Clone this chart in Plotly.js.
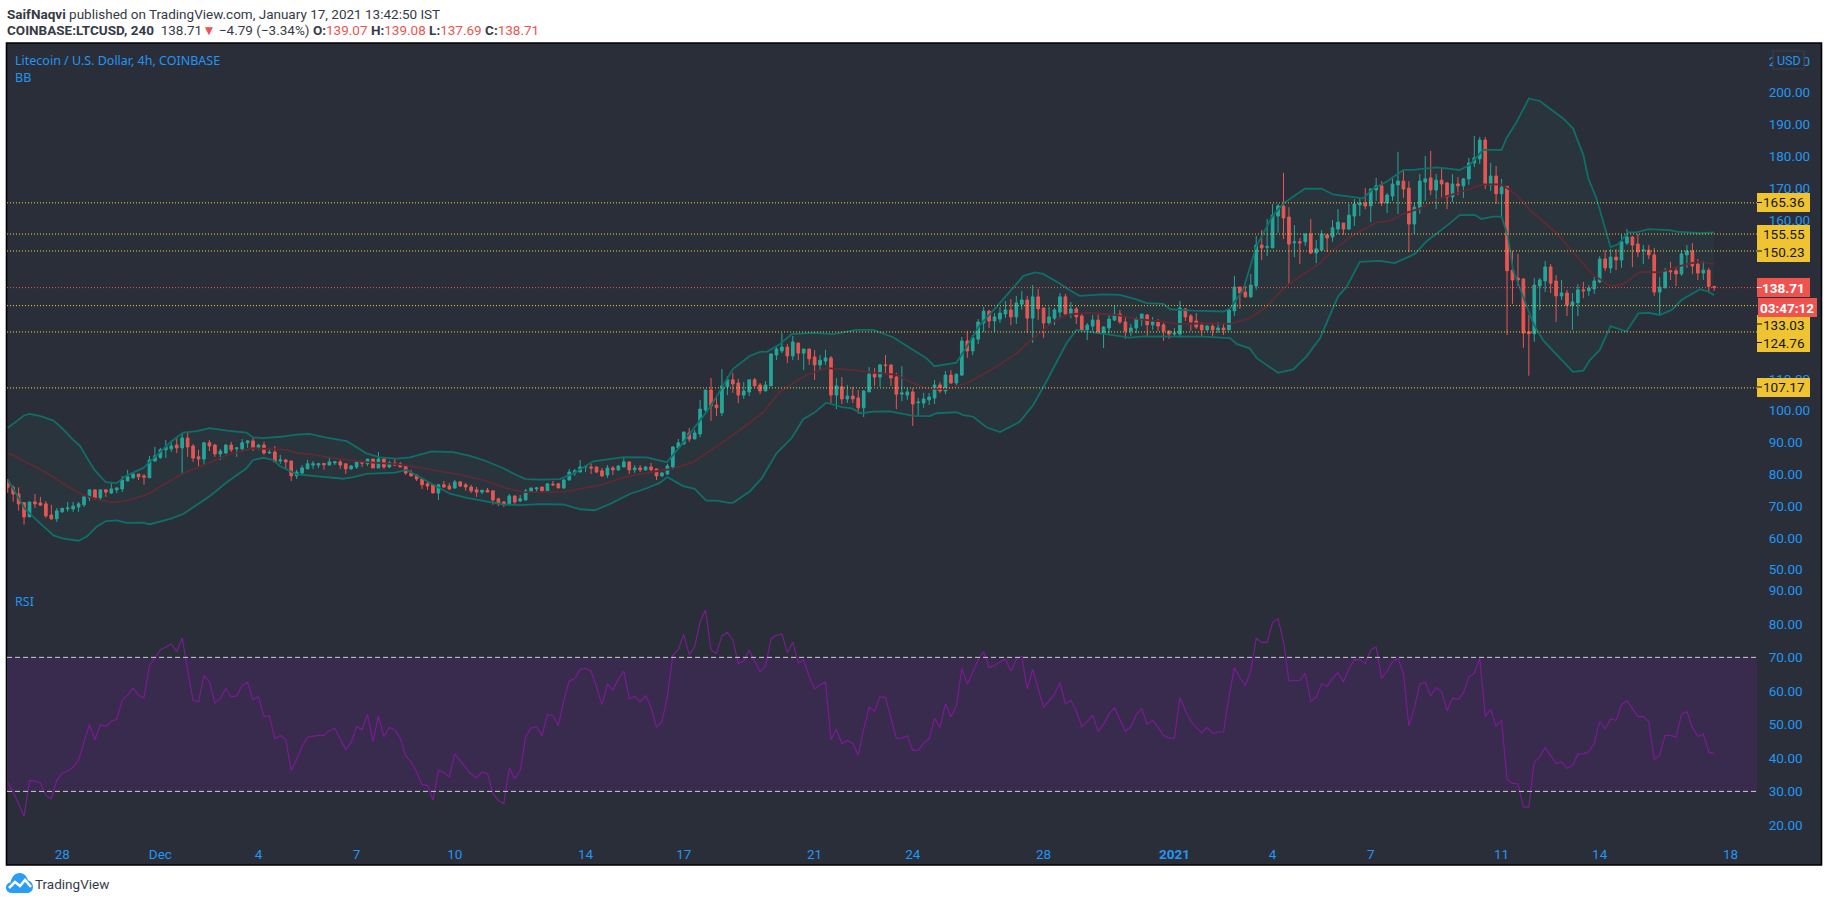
<!DOCTYPE html>
<html><head><meta charset="utf-8">
<script src="https://cdn.plot.ly/plotly-3.0.1.min.js"></script>
<style>html,body{margin:0;padding:0;background:#fff;overflow:hidden}#c{width:1828px;height:902px}
#logo{position:absolute;left:6px;top:871px}</style></head>
<body><div id="c"></div>
<svg id="logo" width="27" height="24" viewBox="0 0 27 24"><path d="M6 22 C2 22 0 19.500 0 16.500 C0 13.500 2.500 11.500 4.500 11.500 C5.500 6 9 2 13.500 2 C18 2 21 5.500 22 9.500 C25 10 27 13 27 16 C27 19.500 24.500 22 21 22 Z" fill="#2a9df4"/><path d="M3 17 L9 11 L14 15 L19 9 L25 16" stroke="#fff" stroke-width="2.500" fill="none"/></svg>
<script>
const candleStart = Date.UTC(2020,10,26,9,30);
const open = [
77.0,75.9,73.8,71.1,66.6,71.3,71.0,70.7,67.2,66.0,
68.2,69.1,69.1,69.7,70.4,72.6,75.1,72.6,75.1,74.1,
75.1,75.4,77.9,78.9,80.1,79.5,78.9,84.2,85.3,87.7,
88.0,89.2,88.3,91.4,88.9,85.5,84.8,89.9,89.2,86.4,
86.7,89.2,88.0,88.0,89.9,90.5,88.3,89.2,86.7,87.0,
84.2,84.5,84.2,79.5,80.4,81.7,82.9,82.9,83.4,82.9,
83.6,83.9,83.3,81.7,82.3,83.9,83.3,84.8,82.0,84.8,
82.3,83.5,83.3,82.6,80.4,79.8,78.5,77.0,76.7,74.1,
76.7,76.3,75.7,77.6,76.7,76.0,75.1,74.4,75.0,74.8,
72.3,71.3,70.4,73.2,71.6,71.9,74.4,75.4,76.0,74.8,
76.9,77.0,75.7,78.2,80.4,80.7,82.3,82.3,82.3,81.1,
79.8,82.0,81.4,82.3,83.9,81.4,82.0,81.4,82.3,81.7,
79.5,80.1,82.3,88.3,89.5,93.0,91.1,92.7,100.2,106.5,
101.8,99.3,107.5,109.7,108.7,104.9,105.9,109.7,108.1,106.2,
107.8,117.5,118.8,120.0,117.2,121.3,118.1,119.4,116.9,114.4,
115.6,116.6,104.9,107.5,103.7,104.6,104.0,100.9,105.9,111.5,
110.6,114.4,114.4,110.6,105.2,104.9,105.9,102.5,102.4,103.4,
104.0,108.1,106.2,111.2,108.7,111.2,121.9,118.8,122.5,127.6,
131.3,128.2,128.8,130.4,131.7,129.5,133.5,134.8,129.1,135.8,
132.3,127.6,129.1,131.0,135.8,130.4,132.0,129.8,125.4,126.6,
128.5,124.4,126.0,128.5,130.4,127.9,125.1,126.0,128.5,130.1,
127.0,127.9,127.0,125.1,124.1,124.1,132.0,129.8,128.2,127.0,
125.4,126.6,125.4,126.0,125.4,131.4,138.9,137.3,135.8,139.2,
152.1,151.4,151.2,161.2,164.4,160.9,152.8,153.1,153.1,155.6,
149.6,150.5,155.3,154.6,157.1,159.0,157.1,161.2,164.7,165.3,
164.4,169.4,170.7,165.3,167.5,171.0,172.2,170.0,158.7,163.7,
171.9,173.2,169.4,172.5,171.6,167.2,171.3,170.7,172.9,177.9,
179.2,185.1,171.0,173.8,168.2,170.5,144.2,141.7,141.4,124.8,
124.2,139.2,140.8,145.2,140.8,136.1,137.0,133.2,133.9,138.0,
137.7,138.3,140.5,147.7,144.9,148.3,147.4,152.7,154.6,152.4,
150.3,150.5,149.0,137.3,138.6,144.0,144.0,143.0,149.0,150.2,
146.1,143.3,144.2,139.07];
const close = [
75.9,73.8,70.7,66.6,71.3,70.7,70.3,66.9,66.0,68.5,
69.3,69.4,70.0,70.7,72.9,75.1,72.6,75.1,74.4,75.4,
75.7,78.2,79.2,80.1,79.2,79.1,84.5,85.8,87.7,88.6,
88.9,88.3,91.4,88.6,85.1,84.8,89.9,88.9,86.4,87.3,
89.2,87.7,88.3,89.9,90.5,88.3,89.2,86.7,86.9,83.9,
84.5,83.9,79.5,80.7,82.0,83.3,83.3,83.3,83.0,83.9,
83.9,82.9,81.7,82.6,83.9,83.5,84.8,82.0,84.8,82.3,
83.6,82.9,82.3,80.4,79.5,78.5,76.7,76.3,74.1,76.7,
76.0,75.4,77.6,76.3,76.0,74.8,74.4,75.0,74.4,71.9,
71.0,70.7,73.2,71.3,72.3,74.8,75.7,75.7,74.8,77.0,
76.7,75.7,78.2,80.7,81.1,82.3,82.5,82.0,80.7,79.5,
82.0,81.4,82.6,83.9,81.4,82.0,81.4,82.3,81.4,79.5,
80.4,82.6,88.6,89.9,93.3,91.1,93.0,100.5,106.5,101.5,
100.9,107.8,109.7,108.4,104.9,106.2,109.7,107.8,106.2,108.1,
117.8,119.4,120.0,117.2,121.6,118.1,119.4,116.3,114.4,115.9,
116.6,104.9,107.8,103.7,104.6,103.7,100.9,106.2,111.5,110.6,
114.4,114.2,110.3,105.2,105.6,105.9,102.1,102.7,103.7,104.3,
108.1,106.2,111.2,108.7,111.5,121.9,118.8,122.9,127.9,131.3,
128.2,129.5,130.7,131.7,129.5,133.9,134.8,129.1,135.8,132.0,
127.6,129.5,131.7,135.8,130.4,132.0,129.5,125.4,126.9,128.5,
124.4,126.3,128.8,130.4,127.9,125.1,126.0,128.8,130.4,127.0,
127.9,126.6,125.1,124.1,124.4,132.3,129.5,127.9,126.3,125.4,
126.6,125.4,126.0,125.4,131.7,138.9,137.0,135.8,139.5,152.1,
151.2,151.6,161.5,164.4,160.6,152.4,153.1,152.8,155.6,149.6,
150.9,155.6,154.3,157.5,159.3,157.1,161.5,165.0,165.3,164.4,
169.7,170.7,165.3,167.8,171.3,172.2,169.7,158.7,164.0,172.2,
172.9,169.4,172.5,171.3,167.2,171.3,170.7,172.9,177.9,179.5,
185.1,171.0,173.8,168.2,170.3,144.0,141.1,141.1,124.4,124.2,
139.5,141.1,145.2,140.1,136.1,137.0,133.2,134.2,138.0,137.7,
138.6,140.8,147.7,144.9,148.3,147.4,153.1,154.6,152.1,149.9,
150.5,149.0,137.3,138.9,143.9,143.7,143.0,149.3,150.2,145.5,
143.3,144.2,139.1,138.71];
const high = [
78.5,76.5,75.9,71.1,71.3,73.8,72.9,71.6,70.4,69.4,
69.3,71.3,71.3,71.3,72.9,75.1,75.1,75.1,75.4,77.6,
76.0,79.5,81.4,80.7,80.1,80.1,85.8,88.6,88.3,90.8,
90.5,91.7,93.0,93.0,89.5,87.7,90.2,90.8,89.5,88.0,
89.5,90.2,88.5,91.1,90.8,91.4,89.5,90.2,88.3,88.9,
86.1,84.8,84.2,81.4,82.9,84.5,84.2,83.6,83.6,85.5,
84.2,84.5,83.3,82.9,84.2,84.2,84.8,84.8,87.0,85.1,
84.2,85.1,83.9,82.9,81.4,80.1,78.9,77.6,76.7,76.7,
77.9,77.3,78.2,77.9,77.3,76.7,76.0,75.0,75.7,74.8,
72.6,71.6,73.8,73.2,73.5,75.4,75.7,76.0,76.0,77.0,
77.9,77.3,78.5,81.7,81.7,84.5,82.9,83.3,82.3,82.0,
82.9,82.6,82.9,85.1,83.9,82.9,82.9,82.6,83.6,81.7,
80.7,83.3,88.9,91.1,93.3,94.6,93.9,103.4,106.5,110.3,
104.4,113.1,110.9,111.9,110.0,109.0,109.7,110.3,108.7,109.3,
118.1,120.0,124.4,121.0,123.5,121.3,119.4,119.4,119.1,117.5,
119.1,117.2,110.3,110.6,108.1,107.5,106.5,106.5,113.7,113.4,
114.7,117.5,114.4,111.9,114.0,107.1,107.1,104.0,105.6,105.6,
109.7,109.0,112.5,112.8,111.5,123.2,125.1,123.8,128.8,132.6,
131.7,130.7,132.6,134.5,135.1,136.1,137.6,136.1,139.5,138.3,
132.3,132.6,132.3,137.0,136.7,134.2,132.6,130.7,127.6,130.1,
130.4,126.6,130.1,133.2,131.7,129.5,127.3,129.5,130.4,130.4,
129.5,128.8,127.6,125.1,126.0,134.5,132.3,130.4,130.7,127.9,
127.0,127.3,127.9,127.6,132.0,142.4,138.9,139.2,143.0,155.0,
156.8,160.3,165.0,165.0,174.8,164.0,158.4,154.3,155.6,160.3,
153.7,156.8,155.6,160.0,163.4,159.0,165.0,166.6,166.9,170.0,
170.0,173.2,172.2,168.5,173.2,181.4,175.4,172.2,165.3,174.4,
180.1,181.7,174.4,176.0,171.9,174.4,173.5,173.2,179.5,186.4,
186.1,186.1,177.9,177.0,172.9,170.7,150.3,149.3,141.7,130.1,
141.7,141.7,147.1,146.1,142.7,141.1,138.0,137.0,139.8,140.5,
139.5,142.0,148.6,150.5,150.8,150.8,155.3,157.1,154.9,155.6,
152.1,152.1,151.2,142.0,144.9,146.8,145.5,150.5,152.1,152.7,
147.7,147.1,144.9,139.08];
const low = [
74.2,71.4,68.6,64.2,66.6,69.4,70.0,66.3,65.7,65.0,
67.9,68.2,68.2,68.2,69.7,71.6,71.9,71.6,72.9,73.8,
74.1,74.4,77.9,78.5,78.2,76.7,78.9,83.9,84.8,85.1,
87.0,86.7,79.8,85.5,83.9,82.6,82.9,87.3,85.5,84.5,
86.4,87.0,85.5,87.0,88.3,87.3,87.7,86.1,86.4,83.9,
83.3,81.7,77.9,78.5,80.1,81.7,81.7,82.0,81.4,82.9,
82.9,81.7,80.1,81.4,81.7,82.3,82.6,82.0,82.0,81.7,
82.0,82.6,82.3,79.8,79.2,77.9,75.4,75.1,74.1,71.9,
75.7,75.1,75.4,76.0,74.8,74.1,72.9,73.8,74.4,70.4,
70.0,69.7,70.4,70.7,71.3,71.9,74.4,74.4,74.1,74.8,
76.3,75.7,75.4,78.2,79.5,80.7,80.7,80.1,80.4,79.2,
78.9,79.8,81.1,82.3,80.1,80.4,80.7,81.1,80.7,78.2,
79.2,79.8,81.4,88.3,89.5,90.2,91.1,91.7,99.0,96.8,
98.3,98.3,104.9,105.6,102.4,103.7,104.6,107.5,105.2,106.2,
107.8,115.9,118.1,115.0,115.9,115.9,112.8,114.4,109.7,112.8,
114.4,102.4,100.5,102.1,102.4,102.4,99.0,98.0,105.9,107.8,
107.5,111.5,107.8,100.5,103.0,103.4,95.2,98.3,100.9,101.8,
102.1,105.6,105.2,108.4,108.1,110.9,116.6,117.5,121.0,124.7,
126.0,124.7,127.6,129.1,126.9,127.3,131.7,124.4,121.3,128.5,
122.9,126.9,126.9,128.8,130.1,129.1,127.3,125.1,122.2,125.1,
124.1,119.7,123.8,128.2,127.3,122.6,123.5,124.4,126.6,123.5,
125.4,125.1,122.0,122.6,123.5,122.9,128.2,125.1,125.7,123.5,
125.1,123.5,124.4,123.8,125.4,129.8,132.0,135.5,135.5,138.0,
147.4,148.6,151.2,155.9,154.0,139.8,148.3,146.1,151.8,149.3,
146.4,150.5,149.9,153.1,155.6,155.3,156.8,158.1,161.2,163.4,
159.3,166.0,164.4,162.2,166.0,161.9,166.9,149.9,155.6,161.9,
166.0,167.8,163.4,166.9,163.4,165.6,167.8,166.9,171.0,176.6,
177.6,169.7,169.1,165.0,160.9,123.8,133.6,139.2,119.8,111.0,
121.7,131.7,137.3,137.0,127.9,134.8,129.8,125.4,129.8,135.4,
136.1,136.7,140.1,143.9,143.3,144.2,144.9,152.1,145.2,148.3,
146.1,147.7,136.1,130.1,138.6,141.1,139.2,142.4,144.9,143.0,
141.1,141.1,137.6,137.69];
const rsi = [
32.7,29.8,26.3,22.6,33.3,33.1,32.5,28.8,27.8,33.3,
35.5,36.0,37.3,39.3,44.8,49.9,45.4,49.9,49.4,51.0,
51.5,57.2,58.8,60.8,58.7,57.9,67.6,69.7,72.2,73.2,
74.0,71.7,75.8,66.2,57.2,56.7,64.7,62.7,56.4,57.7,
60.8,58.2,58.5,61.6,62.5,57.4,58.3,52.3,52.6,45.7,
46.7,45.5,36.3,39.5,43.5,46.2,46.5,46.7,46.7,48.2,
48.8,45.8,42.5,44.6,49.4,48.4,53.0,45.0,52.5,46.3,
49.1,48.3,45.9,40.6,38.8,35.8,32.0,31.8,27.4,36.3,
35.7,34.3,41.2,39.1,37.1,35.1,34.0,35.8,35.3,29.3,
27.3,26.4,37.1,33.8,36.3,46.3,48.9,49.4,46.6,53.0,
52.6,49.7,57.2,63.0,63.6,66.4,66.7,65.9,61.2,55.9,
62.0,60.3,63.5,65.9,57.6,58.4,56.8,58.5,55.2,49.1,
50.8,58.4,70.6,72.4,76.8,70.8,73.2,80.7,84.1,72.2,
71.2,76.4,77.5,75.2,68.2,68.9,72.1,68.9,65.7,67.4,
75.5,76.6,77.0,71.4,74.5,68.4,69.2,64.2,60.6,61.8,
62.6,45.5,48.5,44.2,45.2,44.4,40.9,48.5,55.1,54.0,
58.3,58.0,52.0,45.8,45.9,46.6,42.2,42.3,44.4,45.7,
51.8,49.1,56.2,52.3,55.5,66.7,62.0,65.4,69.2,71.7,
67.0,67.6,68.7,69.5,65.9,69.4,70.3,60.6,66.4,60.7,
55.1,57.0,59.0,62.5,56.1,57.2,54.0,49.3,50.8,52.8,
47.9,50.0,53.2,54.9,51.5,48.0,49.2,52.9,54.7,50.0,
51.2,49.2,46.7,45.9,45.9,58.0,54.2,51.0,49.1,47.5,
49.1,47.3,47.7,47.8,58.2,67.0,63.9,61.6,65.9,75.7,
74.5,74.5,80.4,81.5,74.7,62.9,63.1,63.1,65.2,56.9,
58.1,62.1,61.4,63.8,65.4,62.7,66.6,69.4,69.3,68.2,
72.2,73.1,63.7,65.9,68.8,69.6,65.2,49.5,55.0,62.0,
62.6,58.5,61.0,59.7,54.1,57.9,57.4,59.4,64.1,65.3,
69.7,52.4,54.5,49.5,51.2,33.6,32.4,32.3,25.4,25.3,
38.8,40.3,43.1,40.7,38.3,38.8,36.9,37.7,41.2,41.2,
41.9,44.3,50.9,48.7,51.6,51.2,55.8,57.1,54.7,52.3,
52.4,50.8,39.5,40.8,46.7,46.7,46.2,53.0,53.8,49.1,
46.4,47.1,41.7,41.3];
const bbUpperAt = [0,1,3,4,6,8.4,10.2,12,13.3,14.6,16,18,20,21.7,23,24.9,25.8,27.9,30,32.2,34.7,37,40.2,43.8,45,46.9,49.9,53,55.4,58.2,62.2,65.8,68.3,71.3,73.8,77.8,81.7,84.8,87.2,90.9,93,95,97.6,101.3,103.8,107.4,109.9,112.9,117.2,120.9,123.3,125.8,128.2,130,133,136.1,138,139.3,141.6,143.8,147.8,151.4,155.7,158.8,162.4,166.1,168.5,170,174,175.9,178.3,181.4,184.4,186.3,188.4,189.9,193,194.5,196.6,200.9,204,207,208.9,212,213.2,217.4,223,224.2,226.6,229,231.9,234,237.9,241,243.1,246.8,248.6,250.5,252.9,256,257.8,262.1,266.3,268.2,270.6,274,274.9,276.8,279,281,283.2,285.3,287.1,289,289.9,291.4,294,295.4,297.2,298.8,300.9,304.9,306.1,310.4,313];
const bbUpper = [94.6,96.0,98.5,99.0,98.3,96.9,94.1,90.8,88.9,85.0,81.2,77.5,77.2,79.5,80.5,82.0,83.5,86.8,90.3,93.1,93.6,94.5,93.7,93.1,91.6,91.4,91.8,92.5,92.7,91.6,90.4,86.6,85.3,84.9,85.3,87.2,87.0,85.8,84.5,81.9,80.0,78.5,78.3,78.5,80.3,84.1,84.8,85.4,85.3,83.8,88.7,94.5,99.7,104.4,113.1,117.2,118.5,118.6,120.9,124.1,124.5,124.1,125.4,125.4,123.1,119.1,116.5,114.0,115.1,120.1,126.9,132.7,138.5,142.4,143.5,143.0,140.0,138.2,136.1,136.6,136.4,135.0,133.8,133.6,131.9,131.5,131.2,132.2,138.0,151.6,161.0,165.2,169.8,169.8,168.0,167.3,166.8,169.9,172.0,175.7,175.7,176.5,175.7,177.3,182.0,182.0,185.7,190.9,198.2,197.4,194.6,191.9,188.8,180.4,173.1,166.8,151.4,152.4,156.1,156.1,157.1,156.8,156.3,155.8,156.1];
const bbBasisAt = [0,1,2.9,5.3,8.4,10.8,13.9,16.9,19.4,21.8,25.5,29.2,32.2,36.5,40.2,45,48.7,51.2,53,56,59.7,65.8,71.9,77.4,81.1,83,87.2,91.5,94.6,101.9,108.6,113.5,118.4,122.1,125.8,130,134.3,138.6,141.6,146.5,150.2,155.1,158.1,163,166.1,168.5,172.2,176.5,181.4,185,188.1,191.8,194.2,197.9,203.4,207.7,212,215,219.9,224.2,227.8,230.9,234,237,240.7,243.1,246.8,251.1,253.5,256,259,262.7,267.6,270.6,274,276.8,279.2,284.1,286.8,290.8,294.2,296.6,299.4,303,307.9,310.4,313];
const bbBasis = [86.5,86.0,84.2,82.2,79.1,76.3,73.5,71.9,71.2,71.7,73.6,77.2,80.3,83.3,86.0,88.2,88.0,87.7,86.7,86.2,85.1,83.8,83.1,81.6,80.4,79.9,78.2,75.6,74.4,74.5,76.6,79.3,80.8,81.8,83.9,88.7,93.9,99.5,106.0,111.2,113.4,112.8,112.1,111.3,108.6,107.0,106.8,109.1,113.9,118.0,122.8,128.0,130.1,130.8,130.1,128.7,128.0,127.2,127.5,127.3,129.1,132.7,138.5,142.2,146.4,150.5,155.3,159.2,159.7,161.9,163.6,166.8,169.4,171.2,171.2,167.8,163.1,155.8,150.5,142.7,139.0,140.1,143.7,143.5,146.1,146.9,146.1];
const bbLowerAt = [0,1.7,3.1,5.3,8.4,10.2,13,14.5,16.3,18,20,21.8,24.6,26.1,29.8,32.2,34.7,37.1,40.2,43.8,45,46.9,48.7,49.9,53,56.7,61.6,63.4,65.8,71,73.2,78.1,81.1,84.2,87.2,90.9,94,97.6,101.9,105,107.7,110.5,114.1,117.2,119.6,121,123.9,126,128.1,130,132.2,133.1,136.1,138.3,141,143.8,145.9,148,150.1,153,154.8,156.5,158.8,161.8,166.1,169.1,170.4,174,175.3,177.1,179.5,182,185.6,188.1,190.5,194.2,196,200.3,205.8,208.3,213.2,219.3,224.2,225.4,227.8,229.1,230.9,233,235.8,238.2,240.7,244,245.6,248,251.7,254.4,258.1,260.2,264.5,266.3,269.1,270.3,272.5,274,275.2,276.1,279.8,281.6,284.7,287.1,289,290.2,292,294,296.9,299.1,300.9,303,305.2,307,310.4,311.9,313];
const bbLower = [78.4,73.5,69.3,65.6,60.8,59.8,59.1,60.4,63.5,65.3,65.5,64.7,64.8,64.3,66.0,67.5,70.5,73.2,77.5,81.9,84.5,85.2,84.5,82.6,80.0,79.4,78.6,79.1,80.1,80.5,81.4,76.7,73.9,72.6,71.7,70.5,70.3,70.6,70.5,69.0,68.7,70.7,73.8,75.6,77.3,79.1,76.3,75.4,71.7,71.7,71.0,71.1,74.6,78.7,86.6,91.4,97.3,99.4,102.5,101.1,100.7,99.2,99.7,99.8,98.4,98.3,99.2,99.5,98.6,98.1,94.8,93.3,96.5,101.8,109.1,121.2,125.4,124.3,123.0,123.4,123.3,123.3,122.8,121.0,119.6,116.5,114.4,111.9,113.0,117.0,122.8,135.9,139.0,146.8,147.1,146.4,149.3,153.2,158.9,161.5,161.6,160.3,161.0,161.0,154.7,144.2,127.5,122.2,116.5,112.2,112.6,115.9,119.1,126.6,124.9,130.6,130.8,130.1,131.7,134.8,138.2,137.4,136.3];
const supportLevels = [165.36,155.55,150.23,133.03,124.76,107.17];
const lastPrice = 138.71;
const priceTicks = [50,60,70,80,90,100,110,160,170,180,190,200,210];
const rsiTicks = [20,30,40,50,60,70,80,90];
const timeTicks = ['2020-11-28 01:30','2020-12-01 01:30','2020-12-04 01:30','2020-12-07 01:30','2020-12-10 01:30','2020-12-14 01:30','2020-12-17 01:30','2020-12-21 01:30','2020-12-24 01:30','2020-12-28 01:30','2021-01-01 01:30','2021-01-04 01:30','2021-01-07 01:30','2021-01-11 01:30','2021-01-14 01:30','2021-01-18 01:30'];
const timeLabels = ['28','Dec','4','7','10','14','17','21','24','28','<b>2021</b>','4','7','11','14','18'];

const at = i => new Date(candleStart + i*4*3600e3).toISOString().slice(0,19).replace('T',' ');
const times = open.map((_,i)=>at(i));
const UI = 'Roboto';
const BLUE = '#2196f3';
const px = x => (x-7)/1750, py = y => (838-y)/795;
const rect = (x0,y0,x1,y1,fill,layer='above',line) => ({type:'rect',xref:'paper',yref:'paper',x0:px(x0),x1:px(x1),y0:py(y0),y1:py(y1),fillcolor:fill,line:line||{width:0},layer});
const label = (text,x,y,color,o={}) => ({text,xref:'paper',yref:'paper',x:px(x),y:py(y),xanchor:o.anchor||'center',yanchor:'middle',showarrow:false,font:{family:o.family||UI,size:o.size||13.5,color}});

const traces = [
 {type:'scatter',mode:'lines',x:bbUpperAt.map(at),y:bbUpper,line:{color:'#0e6f69',width:1.8},hoverinfo:'skip',xaxis:'x',yaxis:'y'},
 {type:'scatter',mode:'lines',x:bbLowerAt.map(at),y:bbLower,line:{color:'#0e6f69',width:1.8},fill:'tonexty',fillcolor:'rgba(38,166,154,0.055)',hoverinfo:'skip',xaxis:'x',yaxis:'y'},
 {type:'scatter',mode:'lines',x:bbBasisAt.map(at),y:bbBasis,line:{color:'#5f2a33',width:1.8},hoverinfo:'skip',xaxis:'x',yaxis:'y'},
 {type:'candlestick',x:times,open,high,low,close,whiskerwidth:0,
  increasing:{line:{color:'#26a69a',width:1},fillcolor:'#26a69a'},
  decreasing:{line:{color:'#ef5350',width:1},fillcolor:'#ef5350'},hoverinfo:'skip',xaxis:'x',yaxis:'y'},
 {type:'scatter',mode:'lines',x:times,y:rsi,line:{color:'#7b1a94',width:1.2},hoverinfo:'skip',xaxis:'x',yaxis:'y2'}
];
const YEL='#f0c330', REDB='#ef5350';
const shapes = [
 rect(6.5,43,1821.5,865,'#2a2e39','below',{color:'#000',width:1.6}),
 {type:'rect',xref:'paper',yref:'y2',x0:0,x1:1,y0:30,y1:70,fillcolor:'#392b4e',line:{width:0},layer:'below'},
 ...[30,70].map(v=>({type:'line',xref:'paper',yref:'y2',x0:0,x1:1,y0:v,y1:v,line:{color:'#cfc9d6',width:1,dash:'5px,3px'},layer:'above'})),
 ...supportLevels.map(v=>({type:'line',xref:'paper',yref:'y',x0:0,x1:1,y0:v,y1:v,line:{color:'#f5d33c',width:1,dash:'1px,2px'},layer:'above'})),
 {type:'line',xref:'paper',yref:'y',x0:0,x1:1,y0:lastPrice,y1:lastPrice,line:{color:'#ef5350',width:1,dash:'1px,2px'},layer:'above'},
 rect(1773,51,1804,69,'#2a2e39','above',{color:'#3a3e4a',width:1.2}),
 rect(1757,193,1810,212,YEL), rect(1757,225,1810,262,YEL), rect(1757,315,1810,352,YEL), rect(1757,378,1810,397,YEL),
 rect(1757,278,1810,297,REDB), rect(1758,298,1817,317,REDB),
 ...[202.5,251,324,342.5,387].map(y=>({type:'line',xref:'paper',yref:'paper',x0:px(1757),x1:px(1762),y0:py(y),y1:py(y),line:{color:'#131722',width:1},layer:'above'})),
 {type:'line',xref:'paper',yref:'paper',x0:px(1757),x1:px(1762),y0:py(287.5),y1:py(287.5),line:{color:'#fff',width:1},layer:'above'}
];
const DARK='#131722';
const annotations = [
 label('USD',1788.5,60,BLUE,{size:12.5}),
 label('165.36',1784,202.5,DARK), label('155.55',1784,234,DARK), label('150.23',1784,252,DARK),
 label('133.03',1784,324.5,DARK), label('124.76',1784,343,DARK), label('107.17',1784,387,DARK),
 label('<b>138.71</b>',1784,287.5,'#fff'), label('<b>03:47:12</b>',1787.5,307.5,'#fff'),
 label('Litecoin / U.S. Dollar, 4h, COINBASE',13,60,BLUE,{anchor:'left',family:'Noto Sans',size:12.5}),
 label('BB',13,77,BLUE,{anchor:'left',family:'Noto Sans',size:12.5}),
 label('RSI',13,601,BLUE,{anchor:'left',family:'Noto Sans',size:12.5}),
 label('<b>SaifNaqvi</b> published on TradingView.com, January 17, 2021 13:42:50 IST',5,14,'#363a45',{anchor:'left',size:13.5}),
 label('<b>COINBASE:LTCUSD, 240</b>  138.71<span style="color:#ef5350">▼</span> −4.79 (−3.34%) <b>O:</b><span style="color:#ef5350">139.07</span> <b>H:</b><span style="color:#ef5350">139.08</span> <b>L:</b><span style="color:#ef5350">137.69</span> <b>C:</b><span style="color:#ef5350">138.71</span>',5,30,'#363a45',{anchor:'left',size:13.5}),
 label('TradingView',33,884,'#363a45',{anchor:'left',size:13.5})
];
const axisFont = {family:UI,size:13.5,color:BLUE};
const layout = {
 width:1828,height:902,margin:{l:7,r:71,t:43,b:64,pad:0},
 paper_bgcolor:'#fff',plot_bgcolor:'rgba(0,0,0,0)',showlegend:false,hovermode:false,
 xaxis:{type:'date',range:[at(-0.13),at(320.85)],rangeslider:{visible:false},showgrid:false,zeroline:false,showline:false,
   tickmode:'array',tickvals:timeTicks,ticktext:timeLabels,ticks:'outside',ticklen:4,tickcolor:'rgba(0,0,0,0)',tickfont:axisFont,anchor:'y2'},
 yaxis:{domain:[0.3233,1],range:[46.45,215.63],side:'right',showgrid:false,zeroline:false,showline:false,
   tickmode:'array',tickvals:priceTicks,tickformat:'.2f',ticks:'outside',ticklen:8,tickcolor:'rgba(0,0,0,0)',tickfont:axisFont,anchor:'x'},
 yaxis2:{domain:[0,0.3208],range:[16.1,92.2],side:'right',showgrid:false,zeroline:false,showline:false,
   tickmode:'array',tickvals:rsiTicks,tickformat:'.2f',ticks:'outside',ticklen:8,tickcolor:'rgba(0,0,0,0)',tickfont:axisFont,anchor:'x'},
 shapes,annotations
};
Plotly.newPlot('c',traces,layout,{displayModeBar:false,staticPlot:true});
</script></body></html>
